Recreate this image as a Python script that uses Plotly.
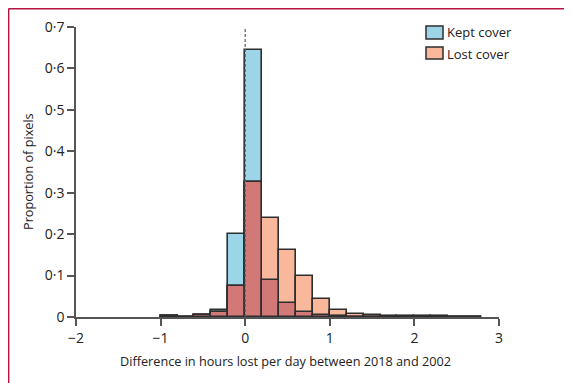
import plotly.graph_objects as go

# Histogram bins (left edges, width 0.2)
bin_left = [-1.0, -0.8, -0.6, -0.4, -0.2, 0.0, 0.2, 0.4, 0.6, 0.8, 1.0, 1.2, 1.4, 1.6, 1.8, 2.0, 2.2, 2.4, 2.6]
bin_width = 0.2
kept_cover = [0.003, 0.001, 0.005, 0.018, 0.200, 0.645, 0.090, 0.033, 0.011, 0.004, 0.002, 0.001, 0.001, 0.001, 0.001, 0.001, 0.001, 0.001, 0.001]
lost_cover = [0.003, 0.001, 0.006, 0.011, 0.075, 0.327, 0.238, 0.161, 0.098, 0.044, 0.016, 0.008, 0.006, 0.003, 0.002, 0.002, 0.002, 0.001, 0.001]

x_ticks = [-2, -1, 0, 1, 2, 3]
x_ticklabels = ["\u22122", "\u22121", "0", "1", "2", "3"]
y_ticks = [0, 0.1, 0.2, 0.3, 0.4, 0.5, 0.6, 0.7]
y_ticklabels = ["0", "0\u00b71", "0\u00b72", "0\u00b73", "0\u00b74", "0\u00b75", "0\u00b76", "0\u00b77"]

centers = [b + bin_width / 2 for b in bin_left]
overlap = [min(k, l) for k, l in zip(kept_cover, lost_cover)]

BLUE = "#9dd5e8"
SALMON = "#f9b89b"
RED = "#d27877"
EDGE = "#2e2e2e"
FONT = "Open Sans"

OFF = 8  # page body margin
W, H = 572 - OFF, 383 - OFF
# plot area in window pixel coordinates
L, R, T, B = 76, 499, 27, 317
PW, PH = R - L, B - T

def px(xw):
    return (xw - L) / PW

def py(yw):
    return (B - yw) / PH

fig = go.Figure()
edge = dict(color=EDGE, width=1.6)
fig.add_trace(go.Bar(x=centers, y=kept_cover, width=bin_width, name="Kept cover",
                     marker=dict(color=BLUE, line=edge), showlegend=False))
fig.add_trace(go.Bar(x=centers, y=lost_cover, width=bin_width, name="Lost cover",
                     marker=dict(color=SALMON, line=edge), showlegend=False))
fig.add_trace(go.Bar(x=centers, y=overlap, width=bin_width, name="Overlap",
                     marker=dict(color=RED, line=edge), showlegend=False))

shapes = [
    dict(type="line", xref="x", yref="y", x0=0, x1=0, y0=0, y1=0.7,
         line=dict(color="#4d6272", width=1.2, dash="3px,2px"), layer="above"),
    dict(type="line", xref="paper", yref="paper", x0=px(8.5), x1=px(580), y0=py(8.5), y1=py(8.5),
         line=dict(color="#b8123e", width=1.8)),
    dict(type="line", xref="paper", yref="paper", x0=px(8.5), x1=px(8.5), y0=py(8.5), y1=py(390),
         line=dict(color="#b8123e", width=1.8)),
    dict(type="rect", xref="paper", yref="paper", x0=px(426), x1=px(443),
         y0=py(39), y1=py(26), fillcolor=BLUE, line=dict(color=EDGE, width=1.5)),
    dict(type="rect", xref="paper", yref="paper", x0=px(426), x1=px(443),
         y0=py(59), y1=py(47), fillcolor=SALMON, line=dict(color=EDGE, width=1.5)),
]

tf = dict(family=FONT, size=13, color="#222")
annotations = [
    dict(text="Kept cover", xref="paper", yref="paper", x=px(445), y=py(32.5),
         xanchor="left", yanchor="middle", showarrow=False, font=tf),
    dict(text="Lost cover", xref="paper", yref="paper", x=px(445), y=py(53.5),
         xanchor="left", yanchor="middle", showarrow=False, font=tf),
    dict(text="Difference in hours lost per day between 2018 and 2002", xref="paper", yref="paper",
         x=px(285), y=py(361), xanchor="center", yanchor="middle", showarrow=False,
         font=dict(family=FONT, size=12.7, color="#222")),
    dict(text="Proportion of pixels", xref="paper", yref="paper", textangle=-90,
         x=px(28), y=py(172), xanchor="center", yanchor="middle", showarrow=False,
         font=dict(family=FONT, size=12.7, color="#222")),
]

fig.update_layout(
    width=W, height=H,
    margin=dict(l=L - OFF, r=W - (R - OFF), t=T - OFF, b=H - (B - OFF), autoexpand=False),
    paper_bgcolor="white", plot_bgcolor="white",
    barmode="overlay", bargap=0,
    font=dict(family=FONT, size=13, color="#222"),
    shapes=shapes, annotations=annotations,
    xaxis=dict(range=[-2, 3], tickvals=x_ticks, ticktext=x_ticklabels, automargin=False,
               showline=True, linecolor="#555", linewidth=1.5, ticks="outside", ticklen=7,
               tickcolor="#555", tickwidth=1.5, showgrid=False, zeroline=False,
               tickfont=dict(size=14)),
    yaxis=dict(range=[0, 0.7], tickvals=y_ticks, ticktext=y_ticklabels, automargin=False,
               showline=True, linecolor="#555", linewidth=1.5, ticks="outside", ticklen=7,
               tickcolor="#555", tickwidth=1.5, showgrid=False, zeroline=False,
               tickfont=dict(size=14)),
)

fig.write_html("out.html")
